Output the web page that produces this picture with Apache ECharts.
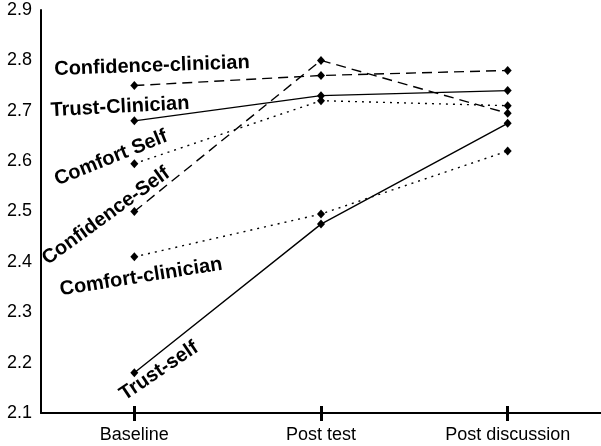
<!DOCTYPE html>
<html>
<head>
<meta charset="utf-8">
<script src="https://cdn.jsdelivr.net/npm/echarts@6/dist/echarts.min.js"></script>
<style>
  html, body { margin: 0; padding: 0; background: #fff; }
  #chart { width: 601px; height: 446px; }
</style>
</head>
<body>
<div id="chart"></div>
<script>
const categories = ['Baseline', 'Post test', 'Post discussion'];
const yTicks = [2.1, 2.2, 2.3, 2.4, 2.5, 2.6, 2.7, 2.8, 2.9];

const confidenceClinician = [2.75, 2.77, 2.78];
const trustClinician = [2.68, 2.73, 2.74];
const comfortSelf = [2.595, 2.72, 2.71];
const confidenceSelf = [2.50, 2.80, 2.695];
const comfortClinician = [2.41, 2.495, 2.62];
const trustSelf = [2.18, 2.475, 2.675];

const seriesNames = ['Confidence-clinician', 'Trust-Clinician', 'Comfort Self', 'Confidence-Self', 'Comfort-clinician', 'Trust-self'];
const seriesValues = [confidenceClinician, trustClinician, comfortSelf, confidenceSelf, comfortClinician, trustSelf];
const lineTypes = [[10, 6], 'solid', [2, 5], [10, 6], [2, 5], 'solid'];

// where the rotated name labels sit (center x, center y, angle in degrees)
const labelSpots = [
    [152, 66, 2],
    [120, 107, 3],
    [111, 158, 22],
    [106, 216, 36],
    [141, 277, 9],
    [159, 371, 34]
];

const chart = echarts.init(document.getElementById('chart'));

const series = seriesNames.map((name, i) => ({
    name: name,
    type: 'line',
    xAxisIndex: 0,
    data: seriesValues[i],
    symbol: 'diamond',
    symbolSize: [8, 9],
    itemStyle: { color: '#000' },
    lineStyle: { color: '#000', width: 1.4, type: lineTypes[i] },
    silent: true
}));

const graphic = seriesNames.map((name, i) => ({
    type: 'text',
    x: labelSpots[i][0],
    y: labelSpots[i][1],
    rotation: labelSpots[i][2] * Math.PI / 180,
    style: {
        text: name,
        x: 0,
        y: 0,
        align: 'center',
        verticalAlign: 'middle',
        font: 'bold 20px "Liberation Sans", Arial, sans-serif',
        fill: '#000'
    }
}));

const tickStyle = { color: '#000', width: 3 };

chart.setOption({
    animation: false,
    grid: { left: 41, right: 0, top: 10, bottom: 33 },
    xAxis: [
        {
            type: 'category',
            data: categories,
            boundaryGap: true,
            axisLine: { show: true, lineStyle: { color: '#000', width: 2 } },
            axisTick: { show: true, alignWithLabel: true, length: 8, lineStyle: tickStyle },
            axisLabel: { color: '#000', fontSize: 18, fontFamily: '"Liberation Sans", Arial, sans-serif', margin: 13 }
        },
        {
            type: 'category',
            data: categories,
            position: 'bottom',
            boundaryGap: true,
            axisLine: { show: false },
            axisTick: { show: true, alignWithLabel: true, inside: true, length: 7, lineStyle: tickStyle },
            axisLabel: { show: false }
        }
    ],
    yAxis: {
        type: 'value',
        min: 2.1,
        max: 2.9,
        interval: 0.1,
        axisLine: { show: true, lineStyle: { color: '#000', width: 2 } },
        axisTick: { show: false },
        splitLine: { show: false },
        axisLabel: {
            color: '#000',
            fontSize: 18,
            fontFamily: '"Liberation Sans", Arial, sans-serif',
            margin: 9,
            formatter: v => yTicks.find(t => Math.abs(t - v) < 1e-6).toFixed(1)
        }
    },
    series: series,
    graphic: graphic
});
</script>
</body>
</html>
